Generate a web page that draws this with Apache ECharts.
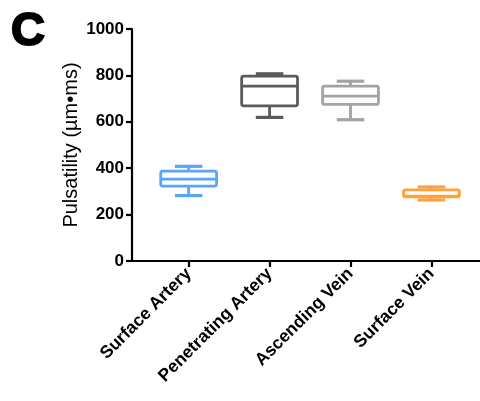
<!DOCTYPE html>
<html>
<head>
<meta charset="utf-8">
<style>
  html, body { margin: 0; padding: 0; background: #fff; }
  #chart { width: 480px; height: 401px; }
</style>
<script src="https://cdn.jsdelivr.net/npm/echarts@6/dist/echarts.min.js"></script>
</head>
<body>
<div id="chart"></div>
<script>
// Vessel categories along the x axis
const categories = ['Surface Artery', 'Penetrating Artery', 'Ascending Vein', 'Surface Vein'];

// Box summaries per vessel: [min, Q1, median, Q3, max] in µm•ms
const surfaceArtery     = [282, 323, 353, 387, 408];
const penetratingArtery = [619, 669, 754, 797, 807];
const ascendingVein     = [609, 675, 711, 754, 775];
const surfaceVein       = [263, 276, 279, 307, 319];

const boxColors = ['#5aa5f8', '#5b5b5b', '#a3a3a3', '#fea23f'];

const yTicks = [0, 200, 400, 600, 800, 1000];

const boxes = [surfaceArtery, penetratingArtery, ascendingVein, surfaceVein];
const seriesData = boxes.map((b, i) => [i].concat(b));

const FONT = 'Liberation Sans, Arial, sans-serif';
const BOX_W = 0.69;   // box width in category units
const CAP_W = 0.34;   // whisker cap width in category units
const LW = 2.8;

function renderBox(params, api) {
  const x = api.value(0);
  const lo = api.coord([x, api.value(1)]);
  const q1 = api.coord([x, api.value(2)]);
  const md = api.coord([x, api.value(3)]);
  const q3 = api.coord([x, api.value(4)]);
  const hi = api.coord([x, api.value(5)]);
  const bw = api.size([BOX_W, 0])[0];
  const cw = api.size([CAP_W, 0])[0];
  const cx = lo[0];
  const color = boxColors[params.dataIndex];
  const st = { stroke: color, lineWidth: LW, fill: null, lineCap: 'butt' };
  return {
    type: 'group',
    children: [
      // whiskers
      { type: 'line', shape: { x1: cx, y1: q3[1], x2: cx, y2: hi[1] }, style: st },
      { type: 'line', shape: { x1: cx, y1: q1[1], x2: cx, y2: lo[1] }, style: st },
      { type: 'line', shape: { x1: cx - cw / 2, y1: hi[1], x2: cx + cw / 2, y2: hi[1] }, style: Object.assign({}, st, { lineWidth: LW + 0.4 }) },
      { type: 'line', shape: { x1: cx - cw / 2, y1: lo[1], x2: cx + cw / 2, y2: lo[1] }, style: Object.assign({}, st, { lineWidth: LW + 0.4 }) },
      // box
      { type: 'rect', shape: { x: cx - bw / 2, y: q3[1], width: bw, height: q1[1] - q3[1], r: 2 },
        style: { stroke: color, lineWidth: LW, fill: '#fff' } },
      // median
      { type: 'line', shape: { x1: cx - bw / 2, y1: md[1], x2: cx + bw / 2, y2: md[1] }, style: st }
    ]
  };
}

const chart = echarts.init(document.getElementById('chart'), null, { renderer: 'canvas' });

chart.setOption({
  animation: false,
  backgroundColor: '#fff',
  title: {
    text: 'C',
    left: 6,
    top: 4,
    textStyle: {
      fontFamily: FONT, fontWeight: 'bold', fontSize: 47, color: '#000',
      textBorderColor: '#000', textBorderWidth: 2
    }
  },
  grid: { left: 132, right: 0, top: 29, bottom: 140, containLabel: false },
  xAxis: {
    type: 'value',
    min: -0.7,
    max: 3.6,
    splitLine: { show: false },
    axisLine: { show: true, onZero: false, lineStyle: { color: '#000', width: 2.2 } },
    axisTick: { show: true, length: 6, customValues: [0, 1, 2, 3], lineStyle: { color: '#000', width: 2.2 } },
    axisLabel: {
      show: true,
      customValues: [0, 1, 2, 3],
      rotate: 45,
      margin: 10,
      formatter: v => categories[Math.round(v)],
      fontFamily: FONT, fontWeight: 'bold', fontSize: 17.5, color: '#000'
    }
  },
  yAxis: {
    type: 'value',
    min: 0,
    max: 1000,
    interval: 200,
    name: 'Pulsatility (µm•ms)',
    nameLocation: 'middle',
    nameGap: 51,
    nameMoveOverlap: false,
    nameTextStyle: { fontFamily: FONT, fontSize: 20, color: '#000' },
    splitLine: { show: false },
    axisLine: { show: true, onZero: false, lineStyle: { color: '#000', width: 2.2 } },
    axisTick: { show: true, length: 6, lineStyle: { color: '#000', width: 2.2 } },
    axisLabel: {
      margin: 8,
      formatter: v => yTicks.indexOf(v) >= 0 ? String(v) : '',
      fontFamily: FONT, fontWeight: 'bold', fontSize: 17, color: '#000'
    }
  },
  series: [{
    type: 'custom',
    renderItem: renderBox,
    encode: { x: 0, y: [1, 2, 3, 4, 5] },
    data: seriesData,
    clip: false
  }]
});
</script>
</body>
</html>
